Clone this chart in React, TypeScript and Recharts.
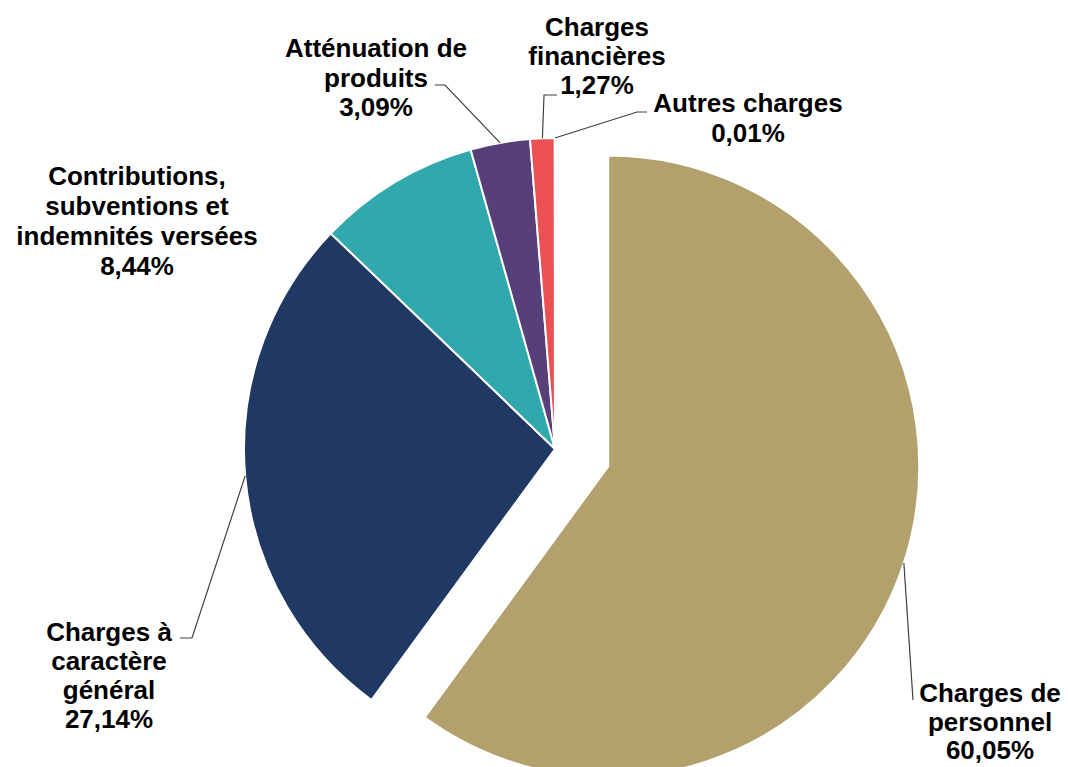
import { PieChart, Pie, Cell } from "recharts";

const categories = [
  "Charges de personnel",
  "Charges à caractère général",
  "Contributions, subventions et indemnités versées",
  "Atténuation de produits",
  "Charges financières",
  "Autres charges",
];
const shares = [60.05, 27.14, 8.44, 3.09, 1.27, 0.01];
const labelLines = [
  ["Charges de", "personnel"],
  ["Charges à", "caractère", "général"],
  ["Contributions,", "subventions et", "indemnités versées"],
  ["Atténuation de", "produits"],
  ["Charges", "financières"],
  ["Autres charges"],
];

const colors = ["#B2A06D", "#1F3864", "#30A8AC", "#573F7A", "#EB5053", "#A5A5A5"];

// label placement (text block centre x, first line y, leader elbow points)
const labelLayout = [
  { x: 990, y: 693, lh: 28.5, leader: [[913, 700]] },
  { x: 109, y: 632, lh: 29, leader: [[192, 638], [180, 638]] },
  { x: 137, y: 176, lh: 30, leader: [] },
  { x: 376, y: 48, lh: 29.5, leader: [[445, 85], [435, 85]] },
  { x: 597, y: 27, lh: 29, leader: [[544, 95], [557, 95]] },
  { x: 748, y: 103, lh: 30, leader: [[637, 112], [647, 112]] },
];

const data = categories.map((name, i) => ({ name, value: shares[i] }));

const W = 1068;
const H = 767;
const CX = 555;
const CY = 449;
const R = 311;
const EXPLODE = 56;
const RAD = Math.PI / 180;

const total = shares.reduce((a, b) => a + b, 0);
const firstMid = 90 - (shares[0] / total) * 360 / 2;
const ecx = CX + EXPLODE * Math.cos(firstMid * RAD);
const ecy = CY - EXPLODE * Math.sin(firstMid * RAD);

const fmt = (v: number) => v.toFixed(2).replace(".", ",") + "%";

function renderLabel(show: (i: number) => boolean) {
  return (props: any) => {
    const { cx, cy, midAngle, outerRadius, index } = props;
    if (!show(index)) return null;
    const lay = labelLayout[index];
    const sx = cx + outerRadius * Math.cos(-midAngle * RAD);
    const sy = cy + outerRadius * Math.sin(-midAngle * RAD);
    const pts = [[sx, sy], ...lay.leader];
    const lines = [...labelLines[index], fmt(shares[index])];
    return (
      <g key={`lbl-${index}`}>
        {lay.leader.length > 0 && (
          <polyline
            points={pts.map((p) => p.join(",")).join(" ")}
            fill="none"
            stroke="#404040"
            strokeWidth={1.2}
          />
        )}
        {lines.map((t, k) => (
          <text
            key={k}
            x={lay.x}
            y={lay.y + k * lay.lh}
            textAnchor="middle"
            dominantBaseline="central"
            fontFamily="'Liberation Sans', Arial, sans-serif"
            fontWeight="bold"
            fontSize={26}
            fill="#000"
          >
            {t}
          </text>
        ))}
      </g>
    );
  };
}

export default function App() {
  return (
    <div style={{ position: "absolute", left: 0, top: 0, width: W, height: H, background: "#fff" }}>
      <PieChart width={W} height={H} margin={{ top: 0, right: 0, bottom: 0, left: 0 }}>
        <Pie
          data={data}
          dataKey="value"
          nameKey="name"
          cx={CX}
          cy={CY}
          outerRadius={R}
          startAngle={90}
          endAngle={-270}
          isAnimationActive={false}
          labelLine={false}
          label={renderLabel((i) => i > 0)}
        >
          {data.map((d, i) => (
            <Cell
              key={d.name}
              fill={i === 0 ? "transparent" : colors[i]}
              stroke={i === 0 ? "none" : "#fff"}
              strokeWidth={2}
            />
          ))}
        </Pie>
        <Pie
          data={data}
          dataKey="value"
          nameKey="name"
          cx={ecx}
          cy={ecy}
          outerRadius={R}
          startAngle={90}
          endAngle={-270}
          isAnimationActive={false}
          labelLine={false}
          label={renderLabel((i) => i === 0)}
        >
          {data.map((d, i) => (
            <Cell
              key={d.name}
              fill={i === 0 ? colors[0] : "transparent"}
              stroke={i === 0 ? "#fff" : "none"}
              strokeWidth={2}
            />
          ))}
        </Pie>
      </PieChart>
    </div>
  );
}
